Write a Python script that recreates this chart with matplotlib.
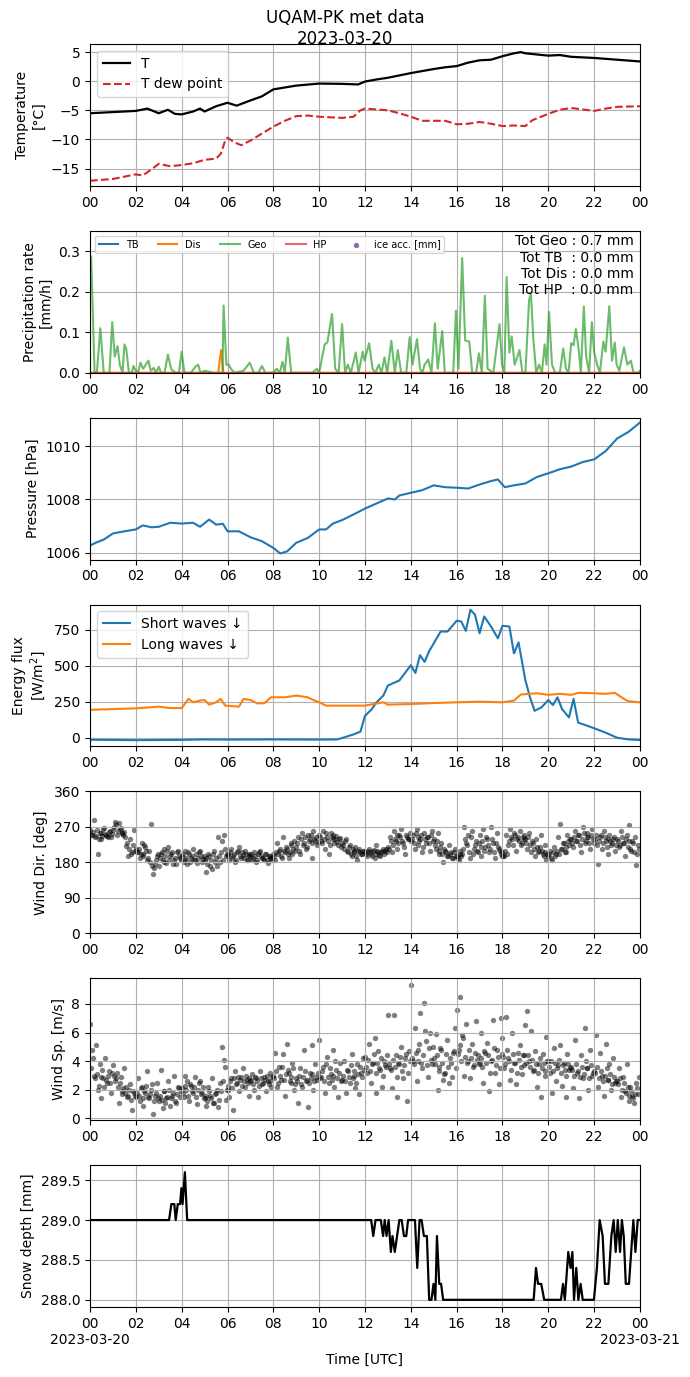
import numpy as np
import matplotlib
matplotlib.use("Agg")
import matplotlib.pyplot as plt

# ---- temperature ----
temp_t = [0, 1, 2, 2.5, 3, 3.4, 3.7, 4, 4.5, 4.8, 5, 5.5, 6, 6.4, 7, 7.5, 8, 9, 10, 11,
          11.7, 12, 12.5, 13, 14, 15, 15.5, 16, 16.5, 17, 17.5, 18, 18.5, 18.8, 19, 20,
          20.5, 21, 22, 23, 24]
temp_v = [-5.5, -5.3, -5.1, -4.7, -5.5, -4.9, -5.6, -5.7, -5.2, -4.7, -5.2, -4.3, -3.7,
          -4.2, -3.3, -2.6, -1.4, -0.75, -0.4, -0.45, -0.55, -0.05, 0.3, 0.6, 1.4, 2.1,
          2.4, 2.6, 3.2, 3.6, 3.7, 4.3, 4.8, 5.0, 4.8, 4.4, 4.5, 4.2, 4.0, 3.7, 3.4]
dew_t = [0, 1, 2, 2.3, 2.7, 3, 3.5, 4, 4.5, 5, 5.5, 5.7, 5.9, 6, 6.3, 6.6, 7, 7.5, 8, 8.5,
         9, 9.5, 10, 11, 11.5, 11.8, 12, 13, 13.5, 14, 14.5, 15, 15.5, 16, 16.5, 17, 17.5,
         18, 18.5, 19, 19.3, 20, 20.5, 21, 22, 22.5, 23, 24]
dew_v = [-17.1, -16.8, -16.0, -16.2, -15.1, -14.2, -14.6, -14.4, -14.1, -13.5, -13.3, -12.5,
         -10.2, -9.7, -10.5, -11.0, -10.2, -9.0, -7.8, -6.8, -6.0, -5.9, -6.1, -6.3, -6.1,
         -5.0, -4.7, -5.0, -5.5, -6.1, -6.8, -6.8, -6.8, -7.4, -7.3, -7.0, -7.3, -7.7, -7.6,
         -7.7, -6.7, -5.6, -4.9, -4.6, -5.1, -4.7, -4.4, -4.3]

# ---- precipitation rate ----
geo_t = [0.0, 0.05, 0.2, 0.3, 0.45, 0.6, 0.85, 0.97, 1.08, 1.2, 1.3, 1.42, 1.5, 1.58, 1.7,
         1.82, 1.9, 2.0, 2.1, 2.2, 2.32, 2.55, 2.65, 2.78, 2.88, 3.0, 3.1, 3.25, 3.4, 3.55,
         3.75, 3.88, 4.0, 4.12, 4.4, 4.6, 4.72, 4.82, 5.0, 5.4, 5.78, 5.83, 5.95, 6.05, 6.15,
         6.3, 6.7, 6.97, 7.15, 7.35, 7.5, 7.65, 8.0, 8.15, 8.28, 8.4, 8.5, 8.63, 8.78, 9.7,
         9.9, 10.0, 10.1, 10.24, 10.36, 10.56, 10.7, 10.85, 11.0, 11.13, 11.25, 11.38, 11.6,
         11.72, 11.9, 11.98, 12.18, 12.33, 12.45, 12.6, 12.72, 12.85, 12.97, 13.15, 13.3,
         13.43, 13.58, 13.8, 13.95, 14.07, 14.27, 14.4, 14.5, 14.6, 14.76, 14.9, 15.05, 15.17,
         15.37, 15.48, 15.7, 15.85, 15.97, 16.08, 16.24, 16.37, 16.55, 16.68, 16.85, 16.97,
         17.1, 17.23, 17.35, 17.6, 17.87, 17.98, 18.08, 18.18, 18.3, 18.4, 18.53, 18.74,
         18.87, 19.0, 19.16, 19.24, 19.35, 19.47, 19.6, 19.72, 19.84, 19.92, 20.03, 20.16,
         20.3, 20.5, 20.65, 20.77, 20.88, 21.0, 21.1, 21.2, 21.32, 21.42, 21.55, 21.65, 21.78,
         21.9, 22.0, 22.13, 22.25, 22.4, 22.5, 22.66, 22.78, 22.9, 22.98, 23.1, 23.3, 23.45,
         23.6, 23.72, 23.9, 24.0]
geo_v = [0.29, 0.285, 0.0, 0.0, 0.11, 0.0, 0.0, 0.125, 0.04, 0.066, 0.02, 0.0, 0.07, 0.06, 0.0,
         0.0, 0.017, 0.005, 0.0, 0.025, 0.01, 0.03, 0.005, 0.012, 0.0, 0.015, 0.0, 0.0, 0.045,
         0.008, 0.0, 0.0, 0.052, 0.0, 0.0, 0.015, 0.02, 0.0, 0.005, 0.0, 0.0, 0.166, 0.02, 0.02,
         0.01, 0.0, 0.005, 0.025, 0.0, 0.0, 0.017, 0.0, 0.0, 0.01, 0.0, 0.027, 0.0, 0.087, 0.0,
         0.0, 0.01, 0.0, 0.03, 0.07, 0.075, 0.145, 0.01, 0.0, 0.12, 0.0, 0.02, 0.0, 0.05, 0.0,
         0.052, 0.03, 0.073, 0.01, 0.0, 0.02, 0.0, 0.038, 0.0, 0.079, 0.0, 0.056, 0.0, 0.0,
         0.088, 0.02, 0.083, 0.01, 0.0, 0.02, 0.033, 0.0, 0.122, 0.01, 0.103, 0.0, 0.0, 0.0,
         0.153, 0.01, 0.283, 0.08, 0.077, 0.0, 0.0, 0.048, 0.0, 0.19, 0.01, 0.0, 0.12, 0.02,
         0.0, 0.236, 0.05, 0.09, 0.02, 0.056, 0.0, 0.0, 0.18, 0.195, 0.08, 0.0, 0.02, 0.0, 0.07,
         0.02, 0.15, 0.02, 0.0, 0.0, 0.06, 0.01, 0.0, 0.073, 0.068, 0.108, 0.06, 0.0, 0.164,
         0.04, 0.0, 0.125, 0.05, 0.02, 0.0, 0.077, 0.052, 0.164, 0.03, 0.075, 0.02, 0.005,
         0.063, 0.02, 0.03, 0.0, 0.0, 0.005]
dis_t = [0, 5.6, 5.68, 5.73, 5.82, 24]
dis_v = [0, 0, 0.04, 0.056, 0, 0]
flat_t = [0, 24]
flat_v = [0, 0]
totals = {"Geo": 0.7, "TB": 0.0, "Dis": 0.0, "HP": 0.0}

# ---- pressure ----
pres_t = [0, 0.3, 0.6, 1, 1.5, 2, 2.3, 2.7, 3, 3.5, 4, 4.5, 4.8, 5.2, 5.5, 5.8, 6, 6.5, 7,
          7.5, 8, 8.3, 8.6, 9, 9.5, 10, 10.3, 10.6, 11, 11.5, 12, 12.5, 13, 13.3, 13.5, 14,
          14.5, 15, 15.5, 16, 16.5, 17, 17.5, 17.8, 18.1, 18.5, 19, 19.5, 20, 20.5, 21, 21.5,
          22, 22.5, 23, 23.5, 24]
pres_v = [1006.28, 1006.4, 1006.5, 1006.73, 1006.81, 1006.88, 1007.03, 1006.96, 1006.98,
          1007.13, 1007.1, 1007.13, 1006.98, 1007.25, 1007.06, 1007.09, 1006.81, 1006.81,
          1006.59, 1006.44, 1006.19, 1005.98, 1006.06, 1006.38, 1006.56, 1006.88, 1006.88,
          1007.1, 1007.23, 1007.44, 1007.66, 1007.85, 1008.04, 1008.0, 1008.15, 1008.25,
          1008.35, 1008.53, 1008.46, 1008.44, 1008.41, 1008.56, 1008.69, 1008.75, 1008.46,
          1008.53, 1008.6, 1008.84, 1008.98, 1009.13, 1009.23, 1009.4, 1009.5, 1009.81,
          1010.28, 1010.53, 1010.88]

# ---- radiation ----
sw_t = [0, 2, 4, 5, 6, 8, 10, 10.8, 11.5, 11.8, 12, 12.3, 12.5, 12.8, 13, 13.5, 14, 14.2,
        14.4, 14.6, 14.8, 15, 15.3, 15.6, 16, 16.2, 16.4, 16.6, 16.8, 17, 17.2, 17.5, 17.8,
        18, 18.3, 18.5, 18.7, 19, 19.2, 19.4, 19.7, 20, 20.2, 20.4, 20.6, 20.9, 21.1, 21.3,
        21.5, 22, 22.5, 23, 23.5, 24]
sw_v = [-14, -17, -15, -12, -13, -12, -13, -12, 23, 42, 152, 199, 246, 293, 363, 398, 504,
        450, 574, 527, 602, 656, 738, 738, 813, 808, 743, 890, 855, 726, 843, 773, 691, 778,
        773, 586, 663, 398, 281, 187, 211, 262, 227, 281, 199, 141, 270, 105, 94, 66, 35, 0,
        -12, -16]
lw_t = [0, 2, 3, 3.5, 4, 4.3, 4.5, 4.8, 5, 5.2, 5.5, 5.7, 5.9, 6.5, 6.7, 7, 7.3, 7.6, 7.9,
        8.5, 9, 9.5, 9.8, 10, 10.3, 11, 12, 12.8, 13, 14, 15, 16, 17, 18, 18.5, 18.8, 19.5,
        20, 20.5, 21, 21.3, 22, 22.5, 22.9, 23.3, 23.5, 24]
lw_v = [194, 204, 216, 206, 206, 270, 246, 258, 262, 230, 246, 270, 223, 216, 270, 262, 239,
        239, 281, 281, 293, 281, 258, 246, 223, 223, 223, 246, 230, 234, 241, 246, 251, 246,
        258, 300, 309, 298, 305, 298, 312, 309, 305, 312, 270, 253, 246]

# ---- wind: one row per hour, 5 min steps; second set is offset by 2.5 min ----
wdir = [
    262, 250, 287, 248, 201, 255, 240, 265, 252, 246, 258, 244,
    262, 283, 250, 280, 268, 255, 258, 222, 195, 240, 205, 262,
    215, 205, 190, 230, 200, 220, 185, 210, 276, 151, 175, 195,
    170, 200, 185, 215, 178, 220, 195, 205, 185, 175, 210, 190,
    195, 180, 210, 175, 200, 190, 215, 185, 178, 205, 195, 188,
    185, 155, 200, 170, 162, 210, 190, 245, 182, 235, 250, 195,
    200, 185, 215, 195, 180, 205, 220, 190, 198, 210, 185, 200,
    195, 185, 205, 180, 200, 210, 190, 185, 200, 178, 195, 190,
    200, 185, 230, 210, 195, 245, 205, 215, 190, 225, 200, 235,
    220, 245, 200, 255, 230, 215, 250, 240, 190, 260, 235, 225,
    250, 235, 260, 215, 245, 200, 255, 240, 230, 248, 225, 242,
    230, 215, 240, 205, 225, 195, 210, 220, 185, 215, 200, 210,
    205, 195, 215, 200, 210, 190, 225, 205, 195, 210, 200, 215,
    220, 245, 205, 260, 235, 215, 250, 265, 230, 200, 245, 240,
    235, 250, 215, 265, 225, 240, 205, 255, 230, 245, 210, 260,
    240, 215, 255, 200, 230, 180, 210, 195, 225, 205, 190, 215,
    195, 185, 210, 200, 270, 230, 250, 190, 260, 215, 235, 205,
    250, 195, 265, 220, 240, 205, 270, 230, 190, 255, 215, 200,
    205, 195, 250, 225, 265, 240, 255, 210, 245, 260, 230, 250,
    240, 215, 255, 205, 230, 195, 220, 210, 250, 200, 225, 185,
    195, 210, 185, 220, 200, 245, 276, 215, 230, 205, 250, 225,
    240, 220, 260, 235, 250, 205, 270, 230, 255, 245, 215, 265,
    230, 250, 175, 245, 215, 260, 235, 200, 250, 225, 240, 210,
    240, 220, 260, 230, 195, 250, 275, 215, 235, 205, 172, 225,
]
wdir2 = [
    250, 258, 245, 262, 240, 255, 248, 268, 250, 243, 260, 252,
    270, 276, 260, 265, 255, 250, 245, 230, 215, 200, 225, 210,
    205, 215, 200, 195, 225, 210, 190, 180, 170, 165, 185, 200,
    190, 205, 180, 195, 210, 185, 200, 175, 190, 205, 195, 185,
    200, 185, 190, 205, 180, 195, 185, 200, 190, 210, 180, 195,
    190, 175, 195, 185, 200, 180, 170, 195, 205, 185, 215, 200,
    195, 205, 190, 200, 185, 210, 195, 205, 190, 200, 185, 195,
    200, 190, 195, 185, 205, 195, 190, 200, 185, 195, 190, 185,
    195, 205, 200, 215, 190, 210, 220, 200, 205, 230, 215, 210,
    230, 210, 240, 225, 245, 220, 235, 250, 228, 240, 245, 232,
    245, 230, 240, 255, 235, 225, 245, 250, 238, 232, 240, 220,
    225, 235, 210, 220, 200, 215, 205, 195, 210, 205, 200, 208,
    200, 210, 205, 195, 212, 200, 208, 198, 205, 215, 210, 205,
    215, 235, 225, 240, 250, 228, 245, 235, 220, 250, 238, 255,
    240, 230, 255, 245, 235, 250, 220, 240, 245, 230, 250, 235,
    225, 235, 210, 220, 200, 215, 205, 195, 200, 190, 205, 195,
    190, 200, 195, 215, 240, 225, 205, 245, 200, 225, 210, 230,
    220, 235, 210, 245, 225, 215, 240, 205, 230, 220, 210, 195,
    195, 210, 200, 235, 245, 225, 250, 240, 235, 225, 245, 240,
    230, 245, 225, 235, 215, 240, 205, 220, 210, 195, 205, 200,
    200, 190, 205, 195, 210, 200, 215, 230, 205, 220, 235, 240,
    230, 245, 235, 250, 225, 240, 255, 235, 245, 230, 250, 240,
    240, 225, 235, 250, 230, 245, 220, 240, 235, 230, 245, 225,
    235, 225, 245, 230, 240, 220, 235, 210, 230, 245, 200, 215,
]
wspd = [
    6.6, 4.8, 3.0, 5.1, 2.0, 3.8, 1.4, 2.8, 4.2, 2.5, 3.3, 1.8,
    3.7, 2.6, 3.2, 1.1, 2.9, 1.9, 3.5, 2.2, 1.6, 2.4, 0.6, 1.8,
    1.5, 2.8, 1.2, 2.2, 0.9, 1.8, 3.3, 1.4, 2.0, 0.3, 1.6, 2.5,
    1.2, 3.4, 0.7, 1.9, 1.4, 2.6, 0.9, 1.6, 3.0, 1.1, 2.2, 1.5,
    2.1, 1.5, 3.0, 2.6, 1.2, 2.3, 1.8, 2.9, 1.0, 2.5, 1.7, 2.2,
    1.4, 0.9, 2.2, 1.6, 2.8, 1.1, 1.8, 0.8, 2.5, 5.0, 4.1, 1.3,
    2.0, 1.5, 2.8, 0.6, 3.3, 2.5, 1.9, 2.9, 3.5, 2.2, 2.7, 1.6,
    2.6, 3.1, 2.0, 2.8, 1.5, 3.3, 2.4, 2.9, 1.9, 2.6, 3.2, 2.2,
    3.0, 4.6, 2.2, 3.6, 2.7, 4.5, 1.6, 5.2, 3.2, 2.5, 3.9, 2.0,
    2.8, 1.1, 3.5, 2.2, 4.8, 2.6, 0.8, 3.2, 5.1, 2.0, 3.8, 2.7,
    5.5, 2.9, 3.6, 1.8, 4.3, 2.5, 3.1, 4.8, 2.2, 3.4, 1.5, 3.9,
    2.7, 4.0, 1.8, 3.3, 2.5, 4.5, 3.0, 2.1, 3.8, 1.7, 3.2, 4.2,
    4.3, 3.2, 5.2, 2.5, 3.9, 5.6, 1.8, 4.7, 3.4, 2.2, 4.0, 3.6,
    7.2, 3.5, 2.1, 7.2, 4.4, 1.5, 3.8, 5.0, 2.8, 4.2, 1.2, 4.7,
    9.3, 4.0, 6.3, 2.6, 4.8, 7.4, 3.5, 8.1, 5.4, 2.9, 6.0, 3.8,
    4.2, 5.9, 2.0, 3.6, 4.8, 2.7, 3.2, 5.5, 2.5, 3.9, 4.6, 6.3,
    7.6, 4.8, 8.5, 5.8, 3.0, 6.6, 4.0, 2.8, 5.2, 3.7, 6.8, 4.4,
    3.9, 6.0, 2.5, 4.6, 5.3, 1.9, 4.0, 6.9, 3.2, 4.8, 2.4, 7.0,
    5.6, 3.5, 7.1, 4.2, 2.7, 6.0, 3.9, 2.4, 4.6, 5.1, 3.1, 4.4,
    6.5, 7.5, 4.0, 6.1, 3.3, 4.7, 2.2, 3.8, 1.5, 4.5, 3.0, 5.7,
    4.0, 3.2, 1.8, 4.9, 2.6, 3.7, 5.1, 2.3, 3.9, 1.5, 4.5, 3.4,
    3.6, 2.1, 5.5, 3.2, 1.4, 4.4, 2.8, 6.3, 3.5, 2.0, 4.8, 3.0,
    3.3, 5.8, 2.2, 4.6, 3.0, 1.6, 5.2, 2.7, 3.8, 2.0, 4.2, 2.5,
    2.6, 3.5, 1.5, 2.9, 1.9, 3.8, 1.2, 2.2, 1.6, 1.1, 2.5, 1.7,
]
wspd2 = [
    3.5, 4.2, 2.8, 3.1, 2.3, 2.9, 3.4, 2.2, 2.7, 3.0, 2.5, 3.2,
    3.0, 2.8, 2.2, 2.5, 1.7, 2.1, 1.8, 1.5, 2.0, 1.3, 1.9, 1.6,
    1.8, 1.6, 2.1, 1.4, 1.9, 2.3, 1.5, 1.7, 2.4, 1.2, 1.8, 1.4,
    1.6, 1.3, 1.9, 1.1, 1.5, 2.0, 1.4, 1.8, 1.2, 1.7, 2.1, 1.9,
    1.8, 2.3, 2.0, 1.6, 2.4, 1.9, 2.2, 1.5, 2.0, 2.6, 1.8, 1.4,
    1.6, 1.2, 1.9, 1.4, 1.1, 1.7, 2.0, 1.3, 1.9, 2.6, 3.6, 2.0,
    2.3, 2.6, 2.1, 2.8, 2.4, 2.9, 2.7, 2.3, 2.6, 3.0, 2.5, 2.8,
    2.7, 2.4, 2.9, 2.6, 2.3, 2.8, 2.5, 2.7, 3.0, 2.4, 2.6, 2.9,
    2.8, 3.3, 2.5, 3.0, 3.6, 2.7, 3.1, 3.4, 2.6, 2.9, 3.5, 2.4,
    2.6, 3.0, 2.4, 2.9, 3.3, 2.7, 2.5, 2.8, 3.1, 2.6, 2.9, 3.2,
    2.8, 3.3, 2.6, 3.8, 2.9, 3.5, 2.7, 3.0, 4.0, 2.8, 3.2, 2.6,
    3.0, 2.6, 3.4, 2.9, 3.7, 2.8, 3.3, 2.5, 3.1, 3.6, 2.9, 3.4,
    3.6, 4.1, 3.3, 3.8, 4.5, 3.2, 3.9, 3.5, 4.2, 3.0, 3.7, 4.4,
    3.8, 3.4, 4.1, 3.6, 2.9, 3.9, 4.3, 3.3, 3.7, 4.5, 3.2, 4.0,
    4.2, 3.8, 4.6, 4.0, 5.2, 3.9, 4.4, 6.1, 3.7, 4.9, 4.1, 5.0,
    3.8, 4.4, 3.3, 4.9, 3.9, 3.1, 4.5, 3.6, 4.2, 2.9, 4.7, 3.5,
    4.5, 5.1, 4.0, 5.6, 4.3, 3.9, 4.8, 4.2, 3.6, 4.6, 4.1, 3.8,
    4.2, 3.6, 4.7, 3.9, 4.4, 3.2, 4.1, 4.9, 3.7, 4.3, 3.5, 4.5,
    4.3, 3.8, 4.8, 4.0, 3.4, 4.5, 3.9, 3.2, 4.1, 3.6, 4.4, 3.7,
    3.9, 4.4, 3.6, 4.1, 3.4, 3.8, 3.2, 4.2, 3.5, 3.9, 3.3, 4.0,
    3.6, 4.0, 3.3, 3.9, 3.5, 4.1, 3.2, 3.7, 3.4, 3.0, 3.8, 3.5,
    3.4, 3.0, 3.8, 3.3, 2.9, 3.6, 3.1, 4.0, 3.5, 2.8, 3.7, 3.2,
    3.2, 3.6, 2.8, 3.3, 2.6, 3.0, 3.5, 2.7, 3.1, 2.4, 2.9, 2.6,
    2.4, 2.8, 2.0, 2.5, 1.8, 2.2, 1.6, 1.9, 1.4, 1.7, 2.1, 2.9,
]

# ---- snow depth ----
snow_t = [0, 3.45, 3.55, 3.68, 3.74, 3.83, 3.93, 3.99, 4.04, 4.14, 4.24, 12.27, 12.36, 12.46,
          12.69, 12.79, 12.86, 12.94, 13.03, 13.13, 13.2, 13.3, 13.4, 13.5, 13.6, 13.7, 13.8,
          13.88, 14.18, 14.28, 14.38, 14.47, 14.57, 14.7, 14.8, 14.9, 14.99, 15.07, 15.14,
          15.24, 15.32, 15.41, 19.36, 19.46, 19.55, 19.69, 19.82, 20.55, 20.64, 20.72, 20.87,
          20.97, 21.05, 21.12, 21.22, 21.31, 21.41, 21.5, 21.99, 22.12, 22.24, 22.37, 22.47,
          22.62, 22.75, 22.85, 22.94, 23.03, 23.13, 23.21, 23.29, 23.38, 23.52, 23.71, 23.8,
          23.9, 24.0]
snow_v = [289.0, 289.0, 289.2, 289.2, 289.0, 289.2, 289.2, 289.4, 289.2, 289.6, 289.0, 289.0,
          288.8, 289.0, 289.0, 288.8, 289.0, 288.8, 289.0, 288.6, 288.8, 288.6, 288.8, 289.0,
          289.0, 288.8, 288.8, 289.0, 289.0, 288.4, 289.0, 289.0, 288.8, 288.8, 288.0, 288.0,
          288.2, 288.0, 288.8, 288.2, 288.2, 288.0, 288.0, 288.4, 288.2, 288.2, 288.0, 288.0,
          288.2, 288.0, 288.6, 288.4, 288.6, 288.0, 288.4, 288.0, 288.2, 288.0, 288.0, 288.4,
          289.0, 288.8, 288.2, 288.2, 288.8, 289.0, 288.6, 289.0, 288.6, 289.0, 288.8, 288.2,
          288.2, 289.0, 288.6, 289.0, 289.0]

hour_ticks = list(range(0, 25, 2))
hour_labels = ["%02d" % (h % 24) for h in hour_ticks]
wind_t = np.arange(len(wdir)) / 12.0
wind_t2 = wind_t + 2.5 / 60.0

fig, axes = plt.subplots(7, 1, figsize=(6.9, 13.77), dpi=100)
fig.subplots_adjust(left=90/690, right=640/690, top=1-44/1377, bottom=1-1307/1377,
                    hspace=0.316)
fig.suptitle("UQAM-PK met data\n2023-03-20", y=0.9935, va="top", fontsize=12)

# 1. temperature
ax = axes[0]
ax.plot(temp_t, temp_v, color="k", lw=1.6, label="T")
ax.plot(dew_t, dew_v, color="tab:red", ls="--", lw=1.5, label="T dew point")
ax.set_ylim(-18.0, 6.4)
ax.set_yticks([-15, -10, -5, 0, 5])
ax.set_ylabel("Temperature\n[°C]")
ax.legend(loc="upper left")

# 2. precipitation
ax = axes[1]
ax.plot(flat_t, flat_v, color="tab:blue", lw=1.5, label="TB")
ax.plot(dis_t, dis_v, color="tab:orange", lw=1.5, label="Dis")
ax.plot(geo_t, geo_v, color="tab:green", lw=1.5, alpha=0.7, label="Geo")
ax.plot(flat_t, flat_v, color="tab:red", lw=1.5, alpha=0.7, label="HP")
ax.scatter([], [], color="tab:purple", s=8, label="ice acc. [mm]")
ax.set_ylim(0, 0.35)
ax.set_yticks([0.0, 0.1, 0.2, 0.3])
ax.set_ylabel("Precipitation rate\n[mm/h]")
ax.legend(loc="upper left", ncol=5, fontsize=7)
txt = "\n".join([
    "Tot Geo : %.1f mm" % totals["Geo"],
    "Tot TB  : %.1f mm" % totals["TB"],
    "Tot Dis : %.1f mm" % totals["Dis"],
    "Tot HP  : %.1f mm" % totals["HP"],
])
ax.text(0.988, 0.975, txt, transform=ax.transAxes, ha="right", va="top",
        multialignment="right", fontsize=10)

# 3. pressure
ax = axes[2]
ax.plot(pres_t, pres_v, color="tab:blue", lw=1.5)
ax.set_ylim(1005.75, 1011.06)
ax.set_yticks([1006, 1008, 1010])
ax.set_ylabel("Pressure [hPa]")

# 4. radiation
ax = axes[3]
ax.plot(sw_t, sw_v, color="tab:blue", lw=1.5, label="Short waves ↓")
ax.plot(lw_t, lw_v, color="tab:orange", lw=1.5, label="Long waves ↓")
ax.set_ylim(-61, 926)
ax.set_yticks([0, 250, 500, 750])
ax.set_ylabel("Energy flux\n[W/m$^2$]")
ax.legend(loc="upper left")

# 5. wind direction
ax = axes[4]
ax.scatter(wind_t, wdir, color="k", s=15, alpha=0.5, linewidths=0)
ax.scatter(wind_t2, wdir2, color="k", s=15, alpha=0.5, linewidths=0)
ax.set_ylim(0, 360)
ax.set_yticks([0, 90, 180, 270, 360])
ax.set_ylabel("Wind Dir. [deg]")

# 6. wind speed
ax = axes[5]
ax.scatter(wind_t, wspd, color="k", s=15, alpha=0.5, linewidths=0)
ax.scatter(wind_t2, wspd2, color="k", s=15, alpha=0.5, linewidths=0)
ax.set_ylim(-0.12, 9.8)
ax.set_yticks([0, 2, 4, 6, 8])
ax.set_ylabel("Wind Sp. [m/s]")

# 7. snow depth
ax = axes[6]
ax.plot(snow_t, snow_v, color="k", lw=1.6)
ax.set_ylim(287.91, 289.69)
ax.set_yticks([288.0, 288.5, 289.0, 289.5])
ax.set_ylabel("Snow depth [mm]")
ax.set_xlabel("Time [UTC]")

for ax in axes:
    ax.set_xlim(0, 24)
    ax.set_xticks(hour_ticks)
    ax.set_xticklabels(hour_labels)
    ax.grid(True)

last_labels = list(hour_labels)
last_labels[0] = "00\n2023-03-20"
last_labels[-1] = "00\n2023-03-21"
axes[6].set_xticklabels(last_labels)

plt.savefig("out.png", dpi=100)
